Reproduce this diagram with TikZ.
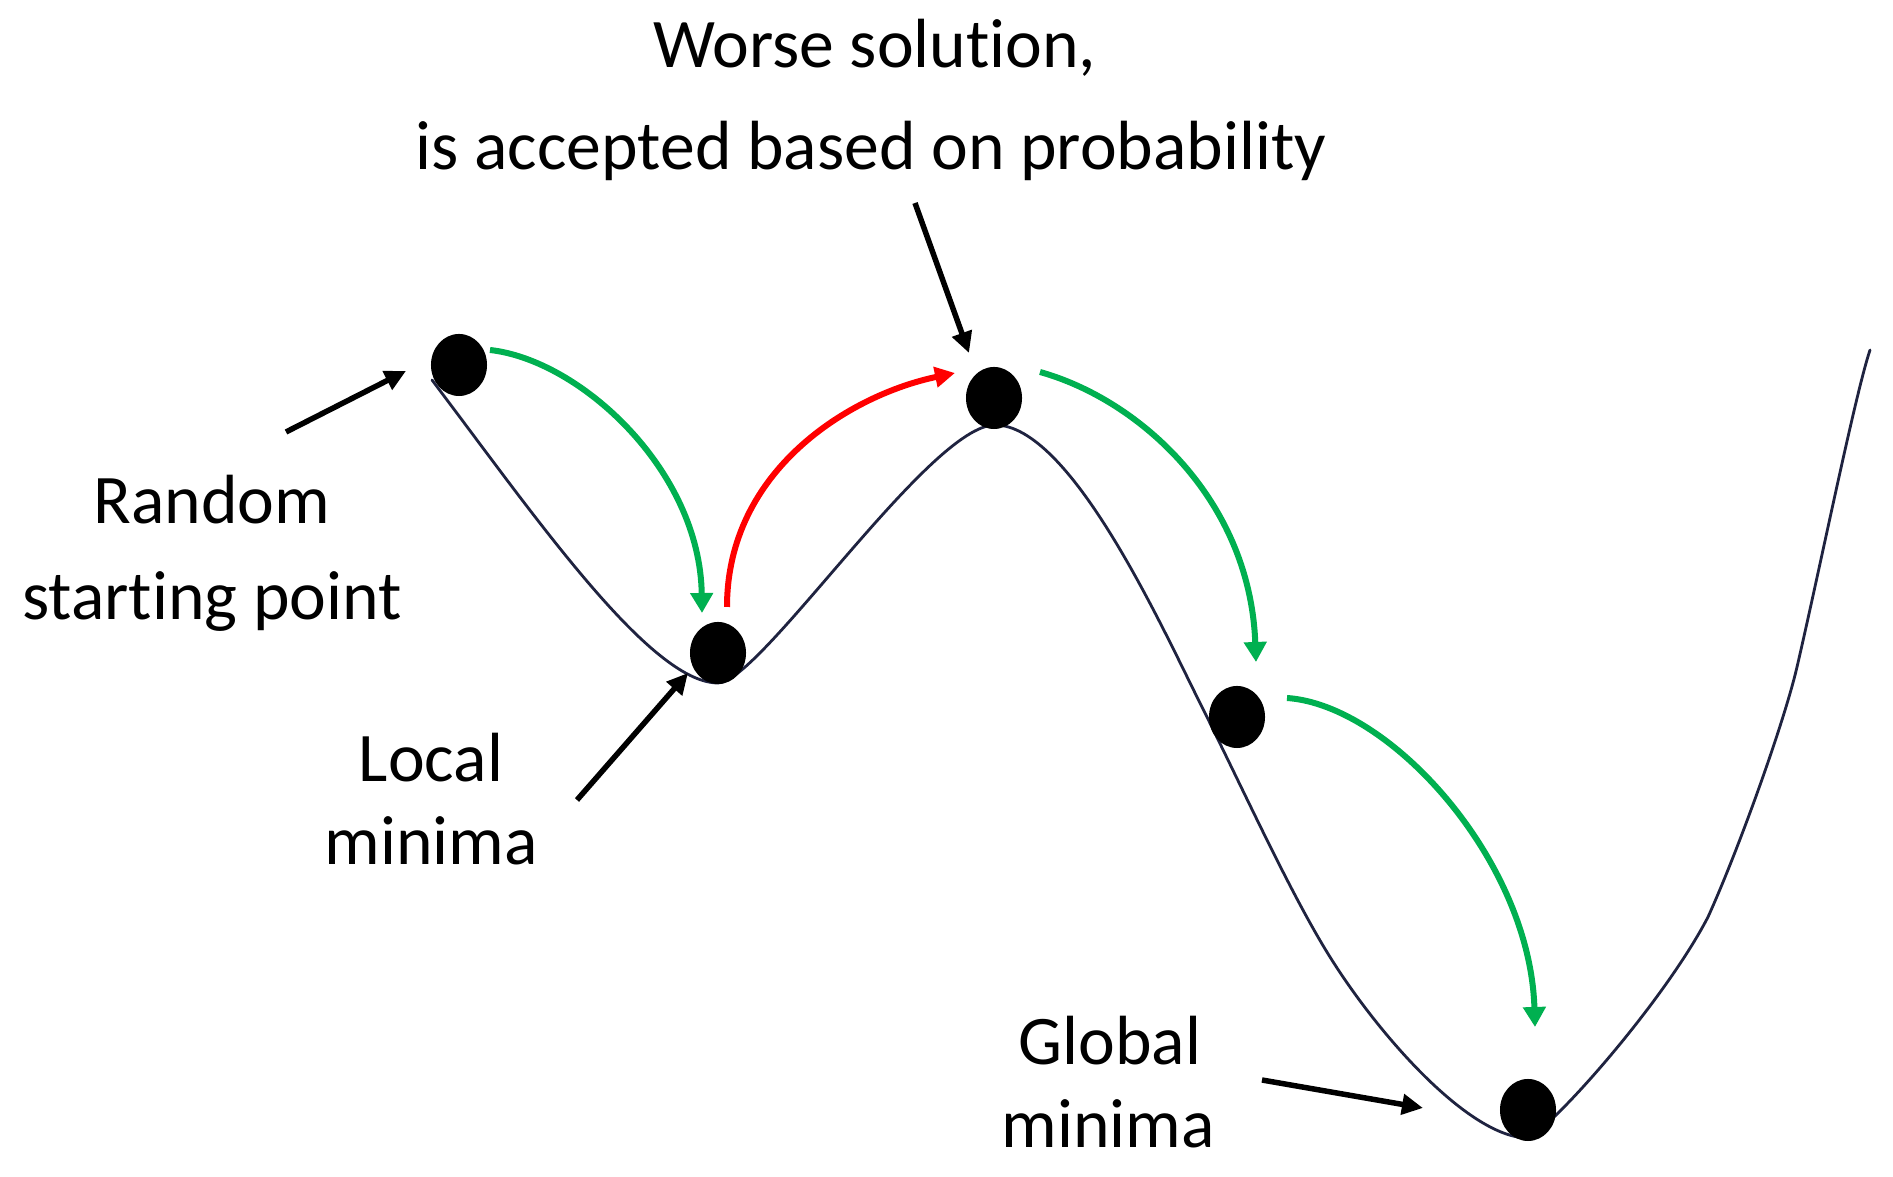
\documentclass[tikz,border=0pt]{standalone}
\usepackage{fontspec}
\setmainfont{Carlito}[Ligatures=NoCommon]
\usetikzlibrary{arrows.meta,shapes.geometric}
\definecolor{curvec}{HTML}{1F2340}
\definecolor{gcol}{HTML}{00B050}
\definecolor{rcol}{HTML}{FF0000}
\begin{document}
\begin{tikzpicture}[x=0.01cm,y=-0.01cm,
 ball/.style={ellipse,fill=black,draw=none,minimum width=0.56cm,minimum height=0.62cm,inner sep=0pt},
 lbl/.style={anchor=base,inner sep=0pt,font=\fontsize{19.8}{24}\selectfont},
 garrow/.style={draw=gcol,line width=0.06cm,-{Triangle[length=0.2cm,width=0.22cm]}},
 rarrow/.style={draw=rcol,line width=0.06cm,-{Triangle[length=0.2cm,width=0.2cm]}},
 barrow/.style={draw=black,line width=0.055cm,-{Triangle[length=0.21cm,width=0.2cm]}},
 landscape/.style={draw=curvec,line width=0.028cm,line cap=round}]
\useasboundingbox (0,0) rectangle (1893,1177);
\fill[white] (0,0) rectangle (1893,1177);

% landscape curve
\draw[landscape] (432,380) .. controls (534,515) and (650,683) .. (718,683)
  .. controls (760,683) and (930,425) .. (995,425)
  .. controls (1070,425) and (1160,623) .. (1200,703)
  .. controls (1243,789) and (1290,893) .. (1330,957)
  .. controls (1380,1037) and (1470,1138) .. (1528,1138)
  .. controls (1555,1125) and (1665,1000) .. (1708,917)
  .. controls (1738,851) and (1784,723) .. (1797,667)
  .. controls (1820,568) and (1855,395) .. (1870,350);

% balls
\node[ball] (b1) at (459,365) {};
\node[ball] (b2) at (718,653) {};
\node[ball] (b3) at (994,398) {};
\node[ball] (b4) at (1237,717) {};
\node[ball] (b5) at (1528,1110) {};

% moves
\draw[garrow] ([shift={(31,-15)}]b1.center) .. controls +(90,10) and +(-2,-143) .. ([shift={(-16,-40)}]b2.center);
\draw[rarrow] ([shift={(9,-46)}]b2.center) .. controls +(0,-137) and +(-105,22) .. ([shift={(-39,-25)}]b3.center);
\draw[garrow] ([shift={(46,-26)}]b3.center) .. controls +(100,28) and +(-6,-162) .. ([shift={(19,-55)}]b4.center);
\draw[garrow] ([shift={(50,-19)}]b4.center) .. controls +(103,7) and +(-5,-167) .. ([shift={(7,-83)}]b5.center);

% labels
\node[lbl] (w1) at (875,68) {Worse solution,};
\node[lbl] (w2) at (871,170) {is accepted based on probability};
\node[lbl] (r1) at (212,524) {Random};
\node[lbl] (r2) at (212,620) {starting point};
\node[lbl] (l1) at (431,782) {Local};
\node[lbl] (l2) at (431,865) {minima};
\node[lbl] (g1) at (1110,1065) {Global};
\node[lbl] (g2) at (1108,1148) {minima};

% pointer arrows
\coordinate (rtail) at (286,432);
\coordinate (wtail) at (915,203);
\coordinate (ltail) at (577,800);
\coordinate (gtail) at (1262,1080);
\draw[barrow] (rtail) -- ([shift={(-53,6)}]b1.center);
\draw[barrow] (wtail) -- ([shift={(-25,-45)}]b3.center);
\draw[barrow] (ltail) -- ([shift={(-30,20)}]b2.center);
\draw[barrow] (gtail) -- ([shift={(-105,-2)}]b5.center);
\end{tikzpicture}
\end{document}
